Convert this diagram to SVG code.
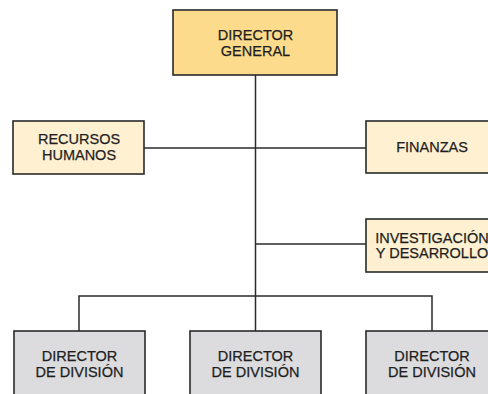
<svg xmlns="http://www.w3.org/2000/svg" width="488" height="394" viewBox="0 0 488 394">
<style>
.box{stroke:#2a2a2a;stroke-width:1.6}
.top{fill:#fcdb8c}
.side{fill:#fff0d2}
.div{fill:#dcdcde}
.conn{stroke:#2a2a2a;stroke-width:1.5;fill:none}
text{font-family:"Liberation Sans",Arial,sans-serif;font-size:14.5px;fill:#1e1e1e;stroke:#1e1e1e;stroke-width:0.25;text-anchor:middle}
</style>
<rect width="488" height="394" fill="#ffffff"/>
<g id="connectors">
<line class="conn" x1="255.5" y1="75" x2="255.5" y2="331"/>
<line class="conn" x1="144" y1="148" x2="366" y2="148"/>
<line class="conn" x1="255.5" y1="244" x2="366" y2="244"/>
<polyline class="conn" points="79,331 79,296 432,296 432,331"/>
</g>
<g id="director-general">
<rect class="box top" x="173" y="10" width="164" height="65"/>
<text x="255.5" y="40">DIRECTOR</text>
<text x="255.5" y="56">GENERAL</text>
</g>
<g id="recursos-humanos">
<rect class="box side" x="13" y="121" width="131" height="53"/>
<text x="79" y="144">RECURSOS</text>
<text x="79" y="160">HUMANOS</text>
</g>
<g id="finanzas">
<rect class="box side" x="366" y="121" width="132" height="52"/>
<text x="432" y="152">FINANZAS</text>
</g>
<g id="investigacion">
<rect class="box side" x="366" y="219" width="132" height="53"/>
<text x="432" y="243">INVESTIGACIÓN</text>
<text x="432" y="258">Y DESARROLLO</text>
</g>
<g id="division-1">
<rect class="box div" x="14" y="331" width="131" height="80"/>
<text x="79.5" y="361">DIRECTOR</text>
<text x="79.5" y="377">DE DIVISIÓN</text>
</g>
<g id="division-2">
<rect class="box div" x="190" y="331" width="131" height="80"/>
<text x="255.5" y="361">DIRECTOR</text>
<text x="255.5" y="377">DE DIVISIÓN</text>
</g>
<g id="division-3">
<rect class="box div" x="366" y="331" width="131" height="80"/>
<text x="432" y="361">DIRECTOR</text>
<text x="432" y="377">DE DIVISIÓN</text>
</g>
</svg>
